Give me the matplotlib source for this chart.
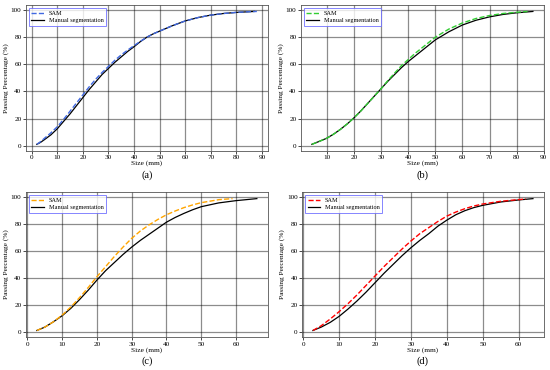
import matplotlib.pyplot as plt
from matplotlib.ticker import MultipleLocator

plt.rcParams['font.family'] = ['Liberation Serif', 'DejaVu Serif']

# (a)
a_man_x = [2, 3.5, 5, 7.5, 10, 12.5, 15, 17.5, 20, 22.5, 25, 27.5, 30, 32.5, 35, 37.5, 40,
           42.5, 45, 47.5, 50, 55, 60, 65, 70, 75, 80, 85, 87]
a_man_y = [1, 2.5, 4.5, 8, 12.5, 18, 23.5, 29.5, 35.5, 41.5, 47, 52.5, 57, 61.5, 65.5, 69.5, 73,
           76.8, 80, 82.5, 84.5, 88.5, 92, 94.5, 96.3, 97.5, 98.3, 98.8, 99]
a_sam_x = [2, 3.5, 5, 7.5, 10, 12.5, 15, 17.5, 20, 22.5, 25, 27.5, 30, 32.5, 35, 37.5, 40,
           42.5, 45, 47.5, 50, 55, 60, 65, 70, 75, 80, 85, 88]
a_sam_y = [1, 3, 5.5, 9.5, 14, 19.5, 25.5, 31.5, 37.5, 43.5, 49, 54, 58.5, 63, 67, 70.5, 73.8,
           77, 80, 82.5, 84.5, 88.5, 92, 94.5, 96.3, 97.5, 98.3, 98.8, 99]

# (b)
b_man_x = [4.5, 7, 10, 12.5, 15, 17.5, 20, 22.5, 25, 27.5, 30, 32.5, 35, 37.5, 40, 42.5, 45,
           47.5, 50, 55, 60, 65, 70, 75, 80, 86]
b_man_y = [1, 3, 5.5, 8.5, 12, 16, 20.5, 25.5, 31, 36.5, 42, 47.5, 52.5, 57.5, 62, 66, 70,
           74, 78, 84, 89, 92.5, 95, 96.8, 98, 99]
b_sam_x = [4.5, 7, 10, 12.5, 15, 17.5, 20, 22.5, 25, 27.5, 30, 32.5, 35, 37.5, 40, 42.5, 45,
           47.5, 50, 55, 60, 65, 70, 75, 80, 84]
b_sam_y = [1, 3, 5.5, 8.5, 12, 16, 20.5, 25.5, 31, 36.5, 42, 48, 53.5, 59, 63.5, 68, 72,
           76, 80, 86, 90.5, 93.8, 96, 97.5, 98.4, 99]

# (c)
c_man_x = [2.7, 5, 7.5, 10, 12.5, 15, 17.5, 20, 22.5, 25, 27.5, 30, 32.5, 35, 37.5, 40, 42.5,
           45, 47.5, 50, 55, 60, 66]
c_man_y = [1, 3.5, 7.5, 12, 17.5, 24, 31, 38.5, 45.5, 51.5, 57.5, 63, 68, 72.5, 77, 81.5, 85,
           88, 90.7, 93, 95.8, 97.5, 99]
c_sam_x = [2.7, 5, 7.5, 10, 12.5, 15, 17.5, 20, 22.5, 25, 27.5, 30, 32.5, 35, 37.5, 40, 42.5,
           45, 47.5, 50, 55, 59]
c_sam_y = [1, 3.5, 7.5, 12.5, 18.5, 25.5, 33, 41, 48.5, 56, 63, 69.5, 75, 79.5, 83.5, 87, 89.8,
           92.3, 94.3, 96, 98.2, 99]

# (d)
d_man_x = [2.7, 5, 7.5, 10, 12.5, 15, 17.5, 20, 22.5, 25, 27.5, 30, 32.5, 35, 37.5, 40, 42.5,
           45, 47.5, 50, 55, 60, 64]
d_man_y = [1, 3.5, 7, 11.5, 17, 23, 29.5, 36.5, 43.5, 50, 56.5, 62.5, 68, 73, 78.5, 83, 87,
           90, 92.3, 94, 96.5, 98, 99]
d_sam_x = [2.7, 5, 7.5, 10, 12.5, 15, 17.5, 20, 22.5, 25, 27.5, 30, 32.5, 35, 37.5, 40, 42.5,
           45, 47.5, 50, 55, 60, 62]
d_sam_y = [1, 4.5, 9.5, 15, 21, 27.5, 34.5, 41.5, 48.5, 55, 61.5, 67.5, 73, 77.5, 82, 86, 89,
           91.5, 93.5, 95, 97, 98.3, 98.7]

panels = [
    ([0.047, 0.592, 0.44, 0.395], a_sam_x, a_sam_y, a_man_x, a_man_y, 'royalblue', '(a)'),
    ([0.547, 0.592, 0.442, 0.395], b_sam_x, b_sam_y, b_man_x, b_man_y, 'limegreen', '(b)'),
    ([0.047, 0.089, 0.44, 0.392], c_sam_x, c_sam_y, c_man_x, c_man_y, 'orange', '(c)'),
    ([0.549, 0.089, 0.44, 0.392], d_sam_x, d_sam_y, d_man_x, d_man_y, 'red', '(d)'),
]

fig = plt.figure(figsize=(5.5, 3.7), dpi=100)
for rect, sx, sy, mx, my, col, lab in panels:
    ax = fig.add_axes(rect)
    ax.plot(sx, sy, '--', color=col, lw=1.0, label='SAM', zorder=3)
    ax.plot(mx, my, '-', color='black', lw=0.9, label='Manual segmentation', zorder=2)
    ax.grid(True, color='black', alpha=0.45, lw=0.9)
    ax.set_axisbelow(True)
    ax.xaxis.set_major_locator(MultipleLocator(10))
    ax.set_yticks([0, 20, 40, 60, 80, 100])
    ax.set_xlabel('Size (mm)', fontsize=5.3, labelpad=0.2)
    ax.set_ylabel('Passing Percentage (%)', fontsize=5.3, labelpad=1)
    ax.tick_params(labelsize=5.2, length=2, width=0.5, pad=1.2)
    for s in ax.spines.values():
        s.set_linewidth(0.6)
        s.set_color('#555555')
    leg = ax.legend(loc='upper left', fontsize=4.5, frameon=True, fancybox=False,
                    handlelength=2, borderpad=0.4, labelspacing=0.3)
    leg.get_frame().set_edgecolor('#6666ff')
    leg.get_frame().set_linewidth(0.7)
    ax.text(0.5, -0.165, lab, transform=ax.transAxes, ha='center', va='center', fontsize=7.5)

fig.savefig('out.png', dpi=100)
